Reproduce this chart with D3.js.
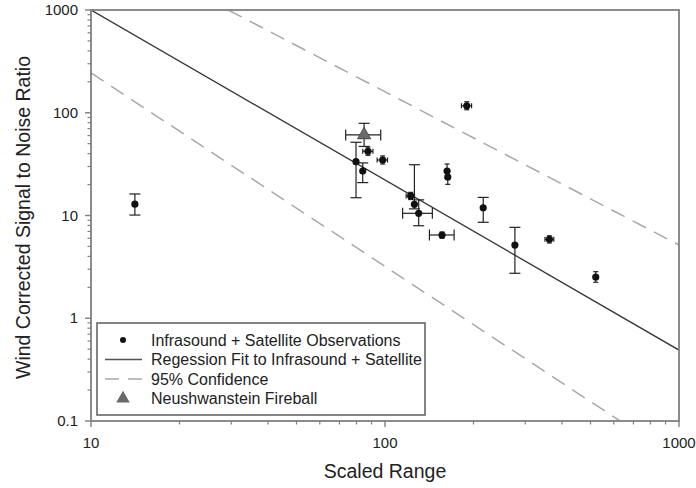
<!DOCTYPE html>
<html>
<head>
<meta charset="utf-8">
<script src="https://cdn.jsdelivr.net/npm/d3@7"></script>
<style>
    body { margin: 0; background: #fff; }
    svg { font-family: "Liberation Sans", Arial, sans-serif; }
</style>
</head>
<body>
<div id="chart"></div>
<script>
// Observations (infrasound + satellite)
const obsX     = [14.1, 79.7, 84.0, 87.5, 98.2, 189.7, 122.3, 125.9, 130.2, 162.6, 163.5, 215.8, 156.3, 276.6, 362.3, 521];
const obsY     = [12.9, 33.4, 27.1, 42.2, 34.7, 117, 15.5, 12.85, 10.5, 27.1, 23.7, 11.9, 6.46, 5.16, 5.86, 2.52];
const obsYLow  = [10.1, 14.9, 20.9, 38.5, 31.7, 107, 14.3, 11.6, 7.95, 23.0, 20.1, 8.59, 6.0, 2.74, 5.4, 2.24];
const obsYHigh = [16.2, 51.6, 32.5, 46.3, 38.0, 128, 16.8, 31.2, 14.2, 31.7, 27.0, 15.0, 6.9, 7.67, 6.35, 2.84];
const obsXLow  = [null, null, null, 84, 94, 182, 118, null, 114.8, null, null, null, 141.6, null, 350, null];
const obsXHigh = [null, null, null, 91, 102, 197, 126, null, 144.9, null, null, null, 171.8, null, 375, null];

// Neushwanstein fireball
const fireballX = [84.9];
const fireballY = [60.8];
const fireballYLow = [47];
const fireballYHigh = [78.9];
const fireballXLow = [73.5];
const fireballXHigh = [96.7];

// regression fit and 95% confidence lines, as end points [x, y]
const fitLine = [[10, 1000], [1000, 0.49]];
const upperConf = [[29.3, 1000], [1000, 5.16]];
const lowerConf = [[10, 244], [630, 0.1]];

const xTickLabels = [10, 100, 1000];
const yTickLabels = [0.1, 1, 10, 100, 1000];

const legendLabels = [
    "Infrasound + Satellite Observations",
    "Regession Fit to Infrasound + Satellite",
    "95% Confidence",
    "Neushwanstein Fireball"
];

const width = 696;
const height = 488;
const margin = { top: 10, right: 17, bottom: 67, left: 91 };
const innerW = width - margin.left - margin.right;
const innerH = height - margin.top - margin.bottom;

const svg = d3.select("#chart").append("svg")
    .attr("width", width)
    .attr("height", height);

const g = svg.append("g")
    .attr("transform", `translate(${margin.left},${margin.top})`);

const x = d3.scaleLog().domain([10, 1000]).range([0, innerW]);
const y = d3.scaleLog().domain([0.1, 1000]).range([innerH, 0]);

const axisColor = "#808080";
const textColor = "#222";

// minor + major ticks
const xMinor = [];
for (let d = 10; d < 1000; d *= 10) {
    for (let k = 2; k <= 9; k++) xMinor.push(d * k);
}
const yMinor = [];
for (let d = 0.1; d < 1000; d *= 10) {
    for (let k = 2; k <= 9; k++) yMinor.push(+(d * k).toPrecision(3));
}

g.selectAll(".xminor").data(xMinor).enter().append("line")
    .attr("x1", d => x(d)).attr("x2", d => x(d))
    .attr("y1", innerH).attr("y2", innerH + 3.5)
    .attr("stroke", axisColor).attr("stroke-width", 1.2);
g.selectAll(".xmajor").data(xTickLabels).enter().append("line")
    .attr("x1", d => x(d)).attr("x2", d => x(d))
    .attr("y1", innerH).attr("y2", innerH + 6)
    .attr("stroke", axisColor).attr("stroke-width", 1.4);

g.selectAll(".yminor").data(yMinor).enter().append("line")
    .attr("y1", d => y(d)).attr("y2", d => y(d))
    .attr("x1", 0).attr("x2", -3.5)
    .attr("stroke", axisColor).attr("stroke-width", 1.2);
g.selectAll(".ymajor").data(yTickLabels).enter().append("line")
    .attr("y1", d => y(d)).attr("y2", d => y(d))
    .attr("x1", 0).attr("x2", -6)
    .attr("stroke", axisColor).attr("stroke-width", 1.4);

g.selectAll(".xlabel").data(xTickLabels).enter().append("text")
    .attr("x", d => x(d))
    .attr("y", innerH + 27)
    .attr("text-anchor", "middle")
    .style("font-size", "15px")
    .style("fill", textColor)
    .text(d => d);

g.selectAll(".ylabel").data(yTickLabels).enter().append("text")
    .attr("x", -13)
    .attr("y", d => y(d) + 5)
    .attr("text-anchor", "end")
    .style("font-size", "15px")
    .style("fill", textColor)
    .text(d => d);

// axis titles
svg.append("text")
    .attr("x", margin.left + innerW / 2)
    .attr("y", 478)
    .attr("text-anchor", "middle")
    .style("font-size", "19.5px")
    .style("fill", textColor)
    .text("Scaled Range");

svg.append("text")
    .attr("transform", `translate(30,${margin.top + innerH / 2 + 2}) rotate(-90)`)
    .attr("text-anchor", "middle")
    .style("font-size", "19.5px")
    .style("fill", textColor)
    .text("Wind Corrected Signal to Noise Ratio");

// clip for the lines
svg.append("defs").append("clipPath").attr("id", "plot-clip")
    .append("rect").attr("width", innerW).attr("height", innerH);

const line = d3.line().x(d => x(d[0])).y(d => y(d[1]));
const lines = g.append("g").attr("clip-path", "url(#plot-clip)");

lines.append("path").datum(upperConf)
    .attr("d", line).attr("fill", "none")
    .attr("stroke", "#a8a8a8").attr("stroke-width", 1.5)
    .attr("stroke-dasharray", "15,9");
lines.append("path").datum(lowerConf)
    .attr("d", line).attr("fill", "none")
    .attr("stroke", "#a8a8a8").attr("stroke-width", 1.5)
    .attr("stroke-dasharray", "15,9");
lines.append("path").datum(fitLine)
    .attr("d", line).attr("fill", "none")
    .attr("stroke", "#333").attr("stroke-width", 1.3);

// frame
g.append("rect")
    .attr("width", innerW).attr("height", innerH)
    .attr("fill", "none")
    .attr("stroke", axisColor).attr("stroke-width", 1.8);

// error bars, short bars get short caps so they read as crosses
function drawErrors(xs, ys, yLo, yHi, xLo, xHi) {
    const eg = g.append("g").attr("stroke", "#222").attr("stroke-width", 1.2);
    xs.forEach((xv, i) => {
        if (yLo[i] != null) {
            const px = x(xv);
            const len = y(yLo[i]) - y(yHi[i]);
            const cap = len < 16 ? 2.5 : 5.5;
            eg.append("line").attr("x1", px).attr("x2", px).attr("y1", y(yLo[i])).attr("y2", y(yHi[i]));
            eg.append("line").attr("x1", px - cap).attr("x2", px + cap).attr("y1", y(yLo[i])).attr("y2", y(yLo[i]));
            eg.append("line").attr("x1", px - cap).attr("x2", px + cap).attr("y1", y(yHi[i])).attr("y2", y(yHi[i]));
        }
        if (xLo[i] != null) {
            const py = y(ys[i]);
            const len = x(xHi[i]) - x(xLo[i]);
            const cap = len < 16 ? 2.5 : 5.5;
            eg.append("line").attr("y1", py).attr("y2", py).attr("x1", x(xLo[i])).attr("x2", x(xHi[i]));
            eg.append("line").attr("y1", py - cap).attr("y2", py + cap).attr("x1", x(xLo[i])).attr("x2", x(xLo[i]));
            eg.append("line").attr("y1", py - cap).attr("y2", py + cap).attr("x1", x(xHi[i])).attr("x2", x(xHi[i]));
        }
    });
}

drawErrors(obsX, obsY, obsYLow, obsYHigh, obsXLow, obsXHigh);
drawErrors(fireballX, fireballY, fireballYLow, fireballYHigh, fireballXLow, fireballXHigh);

g.selectAll(".obs").data(obsX).enter().append("circle")
    .attr("cx", d => x(d))
    .attr("cy", (d, i) => y(obsY[i]))
    .attr("r", 3.6)
    .attr("fill", "#111");

const tri = d3.symbol().type(d3.symbolTriangle).size(80);
g.selectAll(".fireball").data(fireballX).enter().append("path")
    .attr("d", tri)
    .attr("transform", (d, i) => `translate(${x(d)},${y(fireballY[i])})`)
    .attr("fill", "#6a6a6a")
    .attr("stroke", "#333").attr("stroke-width", 0.6);

// legend
const legend = svg.append("g");
legend.append("rect")
    .attr("x", 97).attr("y", 323)
    .attr("width", 328).attr("height", 92)
    .attr("fill", "#fff")
    .attr("stroke", "#666").attr("stroke-width", 1.6);

const rowY = [340, 359.5, 379, 398.5];
legend.append("circle").attr("cx", 123).attr("cy", rowY[0]).attr("r", 3).attr("fill", "#111");
legend.append("line").attr("x1", 105).attr("x2", 142).attr("y1", rowY[1]).attr("y2", rowY[1])
    .attr("stroke", "#555").attr("stroke-width", 1.3);
legend.append("line").attr("x1", 105).attr("x2", 142).attr("y1", rowY[2]).attr("y2", rowY[2])
    .attr("stroke", "#a8a8a8").attr("stroke-width", 1.3).attr("stroke-dasharray", "14,9");
legend.append("path").attr("d", tri)
    .attr("transform", `translate(123,${rowY[3]})`)
    .attr("fill", "#6a6a6a");

legend.selectAll(".ltext").data(legendLabels).enter().append("text")
    .attr("x", 151)
    .attr("y", (d, i) => rowY[i] + 5.5)
    .style("font-size", "16px")
    .style("fill", textColor)
    .text(d => d);
</script>
</body>
</html>
